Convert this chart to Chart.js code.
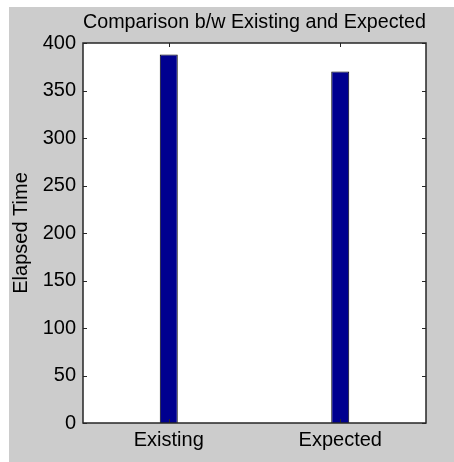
<!DOCTYPE html>
<html>
<head>
<meta charset="utf-8">
<script src="https://cdn.jsdelivr.net/npm/chart.js@4/dist/chart.umd.min.js"></script>
<style>
  html, body { margin: 0; padding: 0; background: #ffffff; }
  #wrap { width: 454px; height: 462px; }
</style>
</head>
<body>
<div id="wrap"><canvas id="chart" width="454" height="462"></canvas></div>
<script>
// values
const categories = ['Existing', 'Expected'];
const elapsedTime = [388, 370];
const yTicks = [0, 50, 100, 150, 200, 250, 300, 350, 400];

const FONT = "'Liberation Sans', Arial, sans-serif";

// grey figure background + white axes box, MATLAB style
const figurePlugin = {
  id: 'figure',
  beforeDraw(chart) {
    const { ctx, chartArea: a } = chart;
    ctx.save();
    ctx.fillStyle = '#ffffff';
    ctx.fillRect(0, 0, chart.width, chart.height);
    ctx.fillStyle = '#cccccc';
    ctx.fillRect(9, 7, chart.width - 9, chart.height - 7);
    ctx.fillStyle = '#ffffff';
    ctx.fillRect(a.left, a.top, a.right - a.left, a.bottom - a.top);
    ctx.restore();
  },
  afterDraw(chart) {
    const { ctx, chartArea: a, scales } = chart;
    const len = 4;
    ctx.save();
    ctx.strokeStyle = '#262626';
    ctx.lineWidth = 1;
    // inward ticks on left and right
    scales.y.ticks.forEach(t => {
      const y = Math.round(scales.y.getPixelForValue(t.value)) + 0.5;
      ctx.beginPath();
      ctx.moveTo(a.left, y); ctx.lineTo(a.left + len, y);
      ctx.moveTo(a.right, y); ctx.lineTo(a.right - len, y);
      ctx.stroke();
    });
    // inward ticks on top and bottom
    categories.forEach((c, i) => {
      const x = Math.round(scales.x.getPixelForValue(i)) + 0.5;
      ctx.beginPath();
      ctx.moveTo(x, a.top); ctx.lineTo(x, a.top + len);
      ctx.moveTo(x, a.bottom); ctx.lineTo(x, a.bottom - len);
      ctx.stroke();
    });
    ctx.lineWidth = 1.5;
    ctx.strokeRect(a.left, a.top, a.right - a.left, a.bottom - a.top);
    ctx.restore();
  }
};

new Chart(document.getElementById('chart'), {
  type: 'bar',
  data: {
    labels: categories,
    datasets: [{
      data: elapsedTime,
      backgroundColor: '#00008f',
      borderColor: '#000000',
      borderWidth: 1,
      barPercentage: 0.105,
      categoryPercentage: 1
    }]
  },
  options: {
    responsive: false,
    animation: false,
    layout: { padding: { left: 0, right: 28, top: 0, bottom: 0 } },
    plugins: {
      legend: { display: false },
      tooltip: { enabled: false },
      title: {
        display: true,
        fullSize: false,
        text: 'Comparison b/w Existing and Expected',
        color: '#000000',
        font: { family: FONT, size: 20, weight: 'normal' },
        padding: { top: 10, bottom: 9 }
      }
    },
    scales: {
      x: {
        grid: { display: false, drawTicks: false },
        border: { display: false },
        ticks: { color: '#000000', font: { family: FONT, size: 20 }, padding: 5 },
        afterFit(scale) { scale.height = 39; }
      },
      y: {
        min: 0,
        max: 400,
        afterBuildTicks(scale) { scale.ticks = yTicks.map(v => ({ value: v })); },
        grid: { display: false, drawTicks: false },
        border: { display: false },
        ticks: { color: '#000000', font: { family: FONT, size: 20 }, padding: 7 },
        title: {
          display: true,
          text: 'Elapsed Time',
          color: '#000000',
          font: { family: FONT, size: 20 },
          padding: { top: 9, bottom: 0 }
        },
        afterFit(scale) { scale.width = 83; }
      }
    }
  },
  plugins: [figurePlugin]
});
</script>
</body>
</html>
